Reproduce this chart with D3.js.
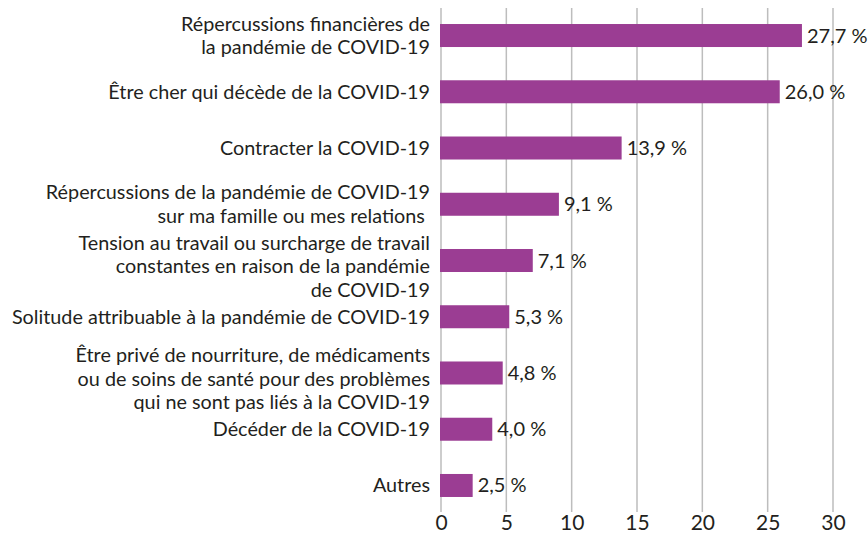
<!DOCTYPE html>
<html>
<head>
<meta charset="utf-8">
<script src="https://cdn.jsdelivr.net/npm/d3@7"></script>
<style>
  body { margin: 0; background: #fff; }
  svg { display: block; font-family: Lato, "Noto Sans", sans-serif; }
  .lbl { white-space: pre; }
</style>
</head>
<body>
<svg width="868" height="537"></svg>
<script>
// categories, one array per label (each entry is a line)
var categories = [
    ["Répercussions financières de", "la pandémie de COVID-19"],
    ["Être cher qui décède de la COVID-19"],
    ["Contracter la COVID-19"],
    ["Répercussions de la pandémie de COVID-19", "sur ma famille ou mes relations "],
    ["Tension au travail ou surcharge de travail", "constantes en raison de la pandémie", "de COVID-19"],
    ["Solitude attribuable à la pandémie de COVID-19"],
    ["Être privé de nourriture, de médicaments", "ou de soins de santé pour des problèmes", "qui ne sont pas liés à la COVID-19"],
    ["Décéder de la COVID-19"],
    ["Autres"]
];
var values = [27.7, 26.0, 13.9, 9.1, 7.1, 5.3, 4.8, 4.0, 2.5];
var xTicks = [0, 5, 10, 15, 20, 25, 30];

var svg = d3.select("svg"),
    margin = {top: 8, right: 35, bottom: 25, left: 441},
    width = +svg.attr("width") - margin.left - margin.right,
    height = +svg.attr("height") - margin.top - margin.bottom;

var g = svg.append("g").attr("transform", "translate(" + margin.left + "," + margin.top + ")");

var x = d3.scaleLinear().domain([0, 30]).range([0, 392]);
var y = d3.scaleBand()
    .domain(d3.range(values.length))
    .range([-0.6, 505.6])
    .paddingInner(0.591)
    .paddingOuter(0.2955);

// gridlines
g.append("g")
    .selectAll("line")
    .data(xTicks)
    .enter().append("line")
        .attr("x1", function(d) { return x(d); })
        .attr("x2", function(d) { return x(d); })
        .attr("y1", 0)
        .attr("y2", 504)
        .attr("stroke", "#bdbdbd")
        .attr("stroke-width", 1.5);

// x axis labels
var xAxis = g.append("g")
    .attr("transform", "translate(0,504)")
    .call(d3.axisBottom(x).tickValues(xTicks).tickSize(0).tickPadding(3).tickFormat(d3.format("d")));
xAxis.select(".domain").remove();
xAxis.selectAll("text")
    .attr("fill", "#231f20")
    .style("font-size", "21px")
    .style("font-family", "Lato, 'Noto Sans', sans-serif");

// bars
g.selectAll(".bar")
    .data(values)
    .enter().append("rect")
        .attr("class", "bar")
        .attr("x", x(0) - 1)
        .attr("y", function(d, i) { return y(i); })
        .attr("width", function(d) { return x(d); })
        .attr("height", y.bandwidth())
        .attr("fill", "#9b3d93");

// value labels
g.selectAll(".val")
    .data(values)
    .enter().append("text")
        .attr("class", "val")
        .attr("x", function(d) { return x(d) + 4; })
        .attr("y", function(d, i) { return y(i) + y.bandwidth() / 2; })
        .attr("dy", "0.35em")
        .attr("fill", "#231f20")
        .style("font-size", "20px")
        .text(function(d) { return d3.format(".1f")(d).replace(".", ",") + " %"; });

// category labels
var lineH = 23.5;
var lbl = g.selectAll(".lbl")
    .data(categories)
    .enter().append("text")
        .attr("class", "lbl")
        .attr("text-anchor", "end")
        .attr("fill", "#231f20")
        .style("font-size", "19.8px")
        .attr("transform", function(d, i) {
            var yc = y(i) + y.bandwidth() / 2 - (d.length - 1) * lineH / 2 + (d.length == 3 ? 6 : 0);
            return "translate(-11," + yc + ")";
        });
lbl.selectAll("tspan")
    .data(function(d) { return d; })
    .enter().append("tspan")
        .attr("x", 0)
        .attr("y", function(d, i) { return i * lineH; })
        .attr("dy", "0.35em")
        .text(function(d) { return d; });
</script>
</body>
</html>
